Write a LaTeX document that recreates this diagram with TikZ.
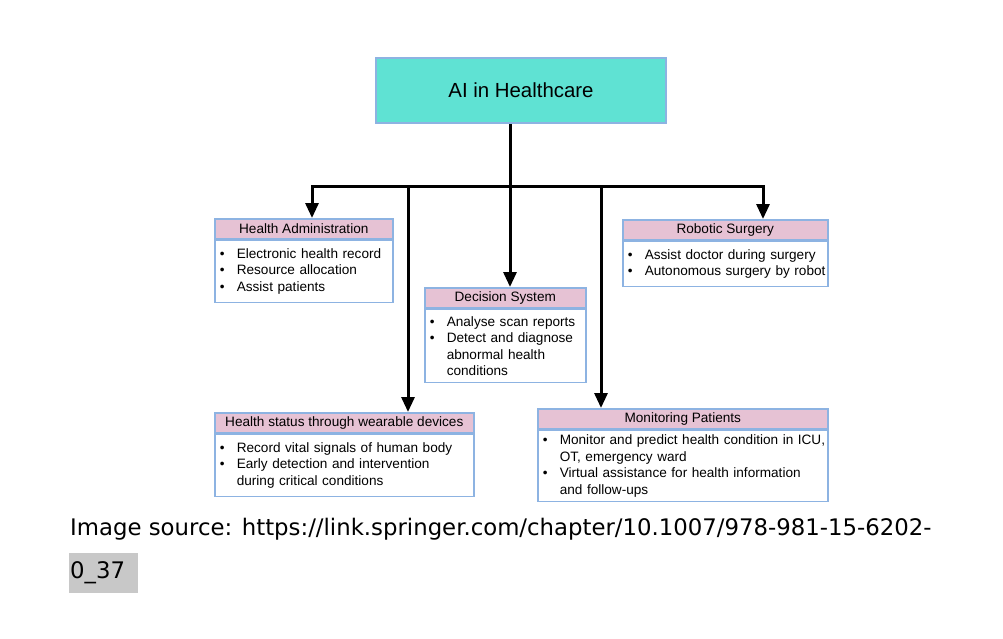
\documentclass[tikz,border=0pt]{standalone}
\usepackage{fontspec}
\setmainfont{Liberation Sans}
\newfontfamily\capfont{DejaVu Sans}
\usetikzlibrary{arrows.meta,positioning}
\definecolor{aqua}{HTML}{5FE2D3}
\definecolor{edgeblue}{HTML}{8DB3E2}
\definecolor{headpink}{HTML}{E6C2D4}
\definecolor{srcgray}{HTML}{C8C8C8}

\newcommand{\bul}[1]{\makebox[17pt][l]{\textbullet}\mbox{#1}}
\newcommand{\cnt}[1]{\hspace*{17pt}\mbox{#1}}

\begin{document}
\begin{tikzpicture}[
    x=1pt, y=-1pt,
    topbox/.style={rectangle, draw=edgeblue, line width=2pt, fill=aqua, minimum width=290pt, minimum height=65pt, font=\fontsize{20.4}{24}\selectfont},
    head/.style={rectangle, draw=edgeblue, line width=1.6pt, fill=headpink, minimum height=20pt, inner sep=0pt, font=\fontsize{13.6}{16.5}\selectfont, anchor=north west},
    body/.style={rectangle, draw=edgeblue, line width=1.6pt, fill=white, inner xsep=5pt, inner ysep=0pt, align=left, font=\fontsize{13.6}{16.5}\selectfont, anchor=north west},
    line/.style={line width=3pt},
    arrow/.style={line width=3pt, -{Triangle[length=15pt,width=13pt]}}
]
    \fill[white] (0,0) rectangle (1003,639);
    \useasboundingbox (0,0) rectangle (1003,639);

    \node[topbox] (ai) at (521,90.5) {AI in Healthcare};

    % branches
    \node[head, minimum width=178pt] (adminhd) at (214,218) {Health Administration};
    \node[body, text width=168pt, minimum height=62pt] (admin) at (adminhd.south west)
        {\bul{Electronic health record}\\ \bul{Resource allocation}\\ \bul{Assist patients}};

    \node[head, minimum width=161pt] (dechd) at (424,287) {Decision System};
    \node[body, text width=151pt, minimum height=73pt] (dec) at (dechd.south west)
        {\bul{Analyse scan reports}\\ \bul{Detect and diagnose}\\ \cnt{abnormal health}\\ \cnt{conditions}};

    \node[head, minimum width=205pt] (robhd) at (622,219) {Robotic Surgery};
    \node[body, text width=195pt, minimum height=45pt] (rob) at (robhd.south west)
        {\bul{Assist doctor during surgery}\\ \bul{Autonomous surgery by robot}};

    \node[head, minimum width=259pt] (wearhd) at (214,412) {Health status through wearable devices};
    \node[body, text width=249pt, minimum height=62pt] (wear) at (wearhd.south west)
        {\bul{Record vital signals of human body}\\ \bul{Early detection and intervention}\\ \cnt{during critical conditions}};

    \node[head, minimum width=290pt] (monhd) at (537,408) {Monitoring Patients};
    \node[body, text width=280pt, minimum height=71pt] (mon) at (monhd.south west)
        {\bul{Monitor and predict health condition in ICU,}\\ \cnt{OT, emergency ward}\\ \bul{Virtual assistance for health information}\\ \cnt{and follow-ups}};

    % connectors
    \coordinate (jn) at (510,187);
    \coordinate (c1) at (312,187);
    \coordinate (c2) at (408,187);
    \coordinate (c4) at (601,187);
    \coordinate (c5) at (763,187);

    \draw[line] (jn |- ai.south) -- (jn);
    \draw[arrow] (jn) -| (c1 |- adminhd.north);
    \draw[arrow] (jn) -| (c5 |- robhd.north);
    \draw[arrow] (c2) -- (c2 |- wearhd.north);
    \draw[arrow] (jn) -- (jn |- dechd.north);
    \draw[arrow] (c4) -- (c4 |- monhd.north);

    % source line
    \node[anchor=base west, inner sep=0pt, font=\capfont\fontsize{22.8}{27}\selectfont] (src) at (70,535)
        {Image source: https://link.springer.com/chapter/10.1007/978-981-15-6202-};
    \node[anchor=north west, fill=srcgray, minimum width=69pt, minimum height=40pt, inner xsep=1pt, text width=67pt, align=left, font=\capfont\fontsize{22.8}{27}\selectfont] (srcid) at (69,553) {0\_37};
\end{tikzpicture}
\end{document}
